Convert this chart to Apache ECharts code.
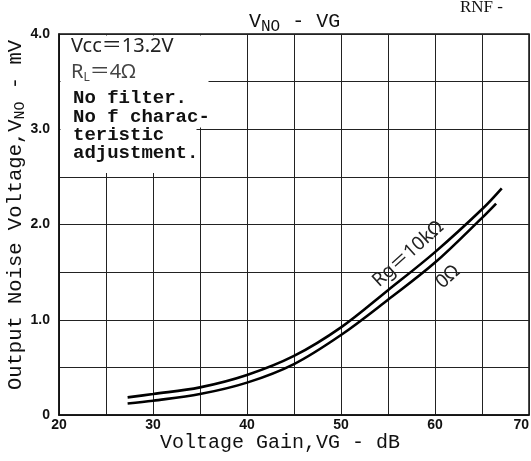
<!DOCTYPE html>
<html><head><meta charset="utf-8">
<script src="https://cdn.jsdelivr.net/npm/echarts@6/dist/echarts.min.js"></script>
<style>html,body{margin:0;padding:0;background:#fff}#c{width:531px;height:461px}</style>
</head><body><div id="c"></div>
<script>
// ---- data ----
const gainRg10k = [27.3, 30, 35, 40, 45, 50, 55, 60, 65, 67.1];
const vnoRg10k  = [0.185, 0.22, 0.29, 0.42, 0.62, 0.92, 1.31, 1.71, 2.16, 2.38];
const gainRg0   = [27.3, 30, 35, 40, 45, 50, 55, 60, 65, 66.5];
const vnoRg0    = [0.12, 0.15, 0.22, 0.34, 0.535, 0.84, 1.21, 1.60, 2.07, 2.22];
const xLabelTicks = [20, 30, 40, 50, 60, 70];
const yLabelTicks = {0: '0', 1: '1.0', 2: '2.0', 3: '3.0', 4: '4.0'};
const curveNames = ['Rg＝10kΩ', '0Ω'];
const noteBold = ['No filter.', 'No f charac-', 'teristic', 'adjustment.'];

const chart = echarts.init(document.getElementById('c'));
const mono = '"Liberation Mono", "DejaVu Sans Mono", monospace';
const sans = '"Noto Sans", "Noto Sans CJK JP", sans-serif';

const graphics = [
  {type: 'rect', z: 10, shape: {x: 60.5, y: 35.5, width: 148, height: 92}, style: {fill: '#fff'}},
  {type: 'rect', z: 10, shape: {x: 60.5, y: 127, width: 136, height: 46}, style: {fill: '#fff'}},
  {type: 'text', z: 11, x: 71, y: 46, style: {text: 'Vcc＝13.2V', font: '20px ' + sans, fill: '#222', textVerticalAlign: 'middle'}},
  {type: 'text', z: 11, x: 71, y: 72, style: {
    text: '{a|R}{s|L}{a|＝4Ω}', fill: '#333', textVerticalAlign: 'middle',
    rich: {a: {font: '20px ' + sans, fill: '#444', lineHeight: 24}, s: {font: '12px ' + sans, fill: '#444', verticalAlign: 'bottom', lineHeight: 24}}
  }},
  {type: 'text', z: 11, x: 460, y: -1, style: {text: 'RNF -', font: '17px "Liberation Serif", serif', fill: '#111'}},
  {type: 'text', z: 11, x: 408, y: 254, rotation: 42 * Math.PI / 180, style: {text: curveNames[0], font: '19px ' + sans, fill: '#222', textAlign: 'center', textVerticalAlign: 'middle'}},
  {type: 'text', z: 11, x: 448, y: 277, rotation: 42 * Math.PI / 180, style: {text: curveNames[1], font: '19px ' + sans, fill: '#222', textAlign: 'center', textVerticalAlign: 'middle'}},
  {type: 'text', z: 11, x: 16, y: 215, rotation: Math.PI / 2, style: {
    text: '{a|Output Noise Voltage,V}{b|NO}{a| - mV}', textAlign: 'center', textVerticalAlign: 'middle',
    rich: {a: {font: '20.5px ' + mono, fill: '#111', lineHeight: 24}, b: {font: '15px ' + mono, fill: '#111', verticalAlign: 'bottom', lineHeight: 24}}
  }},
  {type: 'text', z: 11, x: 280, y: 443, style: {text: 'Voltage Gain,VG - dB', font: '20px ' + mono, fill: '#111', textAlign: 'center', textVerticalAlign: 'middle'}}
];
const noteY = [98, 117, 135, 153];
noteBold.forEach((t, i) => graphics.push({type: 'text', z: 11, x: 73, y: noteY[i],
  style: {text: t, font: 'bold 19px ' + mono, fill: '#111', textVerticalAlign: 'middle'}}));

chart.setOption({
  animation: false,
  backgroundColor: '#fff',
  title: {
    text: '{a|V}{b|NO}{a| - VG}', left: 244, top: 4,
    textStyle: {fontWeight: 'normal', rich: {
      a: {fontFamily: mono, fontSize: 20, fontWeight: 'normal', color: '#111', lineHeight: 26},
      b: {fontFamily: mono, fontSize: 16, fontWeight: 'normal', color: '#111', verticalAlign: 'bottom', lineHeight: 26}
    }}
  },
  grid: {left: 59, right: 2, top: 34, bottom: 46, containLabel: false, outerBoundsMode: 'none',
    show: true, borderColor: '#111', borderWidth: 1.5},
  xAxis: {
    type: 'value', min: 20, max: 70, interval: 5,
    axisLine: {lineStyle: {color: '#111', width: 1.5}},
    axisTick: {show: false},
    axisLabel: {fontFamily: '"Liberation Sans", sans-serif', fontSize: 14, fontWeight: 'bold', color: '#111', margin: 3,
      alignMaxLabel: 'right',
      formatter: v => xLabelTicks.includes(v) ? String(v) : ''},
    splitLine: {show: true, lineStyle: {color: '#222', width: 1}}
  },
  yAxis: {
    type: 'value', min: 0, max: 4, interval: 0.5,
    axisLine: {lineStyle: {color: '#111', width: 1.5}},
    axisTick: {show: false},
    axisLabel: {fontFamily: '"Liberation Sans", sans-serif', fontSize: 14, fontWeight: 'bold', color: '#111', margin: 9,
      formatter: v => (yLabelTicks[v] !== undefined ? yLabelTicks[v] : '')},
    splitLine: {show: true, lineStyle: {color: '#222', width: 1}}
  },
  series: [
    {type: 'line', data: gainRg10k.map((g, i) => [g, vnoRg10k[i]]), smooth: 0.35, symbol: 'none',
      lineStyle: {color: '#000', width: 2.6}, z: 5},
    {type: 'line', data: gainRg0.map((g, i) => [g, vnoRg0[i]]), smooth: 0.35, symbol: 'none',
      lineStyle: {color: '#000', width: 2.6}, z: 5}
  ],
  graphic: graphics
});
</script></body></html>
